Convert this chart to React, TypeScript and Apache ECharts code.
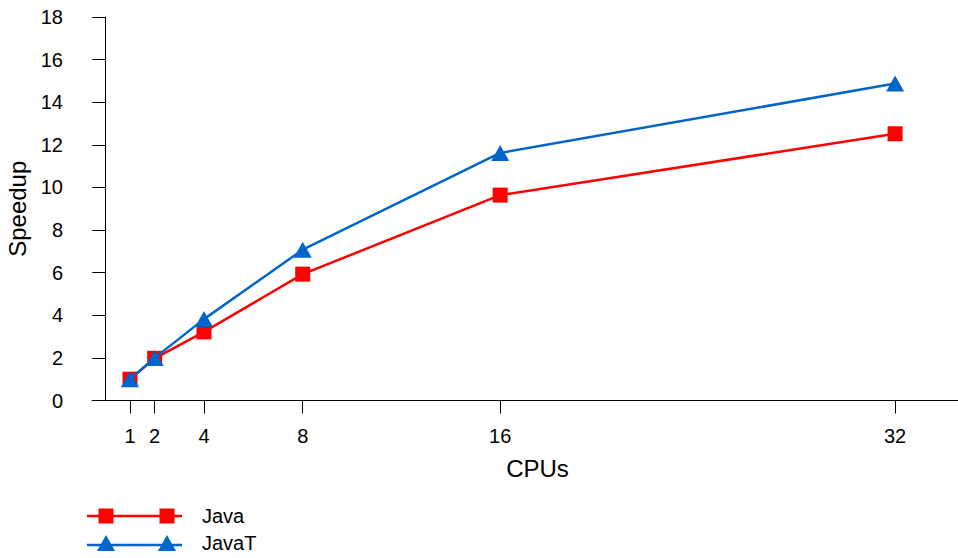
import React, { useEffect, useRef } from "react";
import * as echarts from "echarts";

const cpus = [1, 2, 4, 8, 16, 32];
const javaSpeedup = [1.0, 1.98, 3.22, 5.93, 9.64, 12.52];
const javaTSpeedup = [1.0, 2.0, 3.82, 7.08, 11.62, 14.88];
const yTicks = [0, 2, 4, 6, 8, 10, 12, 14, 16, 18];
const seriesNames = ["Java", "JavaT"];
const colors = ["#ff0000", "#0066cc"];

const FONT = "'Liberation Sans', Arial, Helvetica, sans-serif";

export default function App() {
  const ref = useRef<HTMLDivElement>(null);
  useEffect(() => {
    if (!ref.current) return;
    const chart = echarts.init(ref.current, undefined, { renderer: "svg" });
    const pair = (xs: number[], ys: number[]) => xs.map((x, i) => [x, ys[i]]);
    chart.setOption({
      animation: false,
      backgroundColor: "#ffffff",
      textStyle: { fontFamily: FONT },
      grid: { left: 92, right: 0, top: 17, bottom: 157.5, containLabel: false, outerBoundsMode: "none" },
      xAxis: {
        type: "value",
        min: -0.539,
        max: 34.55,
        name: "CPUs",
        nameLocation: "middle",
        nameGap: 56,
        nameTextStyle: { fontSize: 24, color: "#000", fontFamily: FONT, padding: [0, 0, 0, 25] },
        axisLine: { show: true, onZero: false, lineStyle: { color: "#000", width: 1 } },
        axisTick: { show: true, inside: false, length: 13, customValues: cpus, lineStyle: { color: "#000" } },
        axisLabel: { show: true, margin: 25, fontSize: 20, color: "#000", fontFamily: FONT, customValues: cpus },
        splitLine: { show: false },
      },
      yAxis: {
        type: "value",
        min: 0,
        max: 18,
        interval: 2,
        name: "Speedup",
        nameLocation: "middle",
        nameGap: 62,
        nameTextStyle: { fontSize: 24, color: "#000", fontFamily: FONT },
        axisLine: { show: true, onZero: true, lineStyle: { color: "#000", width: 1 } },
        axisTick: { show: true, inside: false, length: 13, customValues: yTicks, lineStyle: { color: "#000" } },
        axisLabel: { show: true, margin: 29, fontSize: 20, color: "#000", fontFamily: FONT, customValues: yTicks },
        splitLine: { show: false },
      },
      legend: {
        orient: "vertical",
        left: 87,
        top: 505,
        padding: 0,
        itemWidth: 95,
        itemHeight: 16,
        itemGap: 5,
        textStyle: { fontSize: 20, lineHeight: 22, color: "#000", fontFamily: FONT, padding: [0, 0, 0, 15] },
        itemStyle: { borderWidth: 0 },
        data: [
          {
            name: seriesNames[0],
            icon: "path://M0,6.8H95V9.2H0Z M11.5,0.5H26.5V15.5H11.5Z M72.5,0.5H87.5V15.5H72.5Z",
          },
          {
            name: seriesNames[1],
            icon: "path://M0,8.8H95V11.2H0Z M10,16L19,0L28,16Z M71,16L80,0L89,16Z",
          },
        ],
      },
      series: [
        {
          name: seriesNames[0],
          type: "line",
          data: pair(cpus, javaSpeedup),
          symbol: "rect",
          symbolSize: 15,
          color: colors[0],
          lineStyle: { color: colors[0], width: 2.5 },
          itemStyle: { color: colors[0], borderWidth: 0 },
          z: 2,
        },
        {
          name: seriesNames[1],
          type: "line",
          data: pair(cpus, javaTSpeedup),
          symbol: "triangle",
          symbolSize: [18, 16],
          color: colors[1],
          lineStyle: { color: colors[1], width: 2.5 },
          itemStyle: { color: colors[1], borderWidth: 0 },
          z: 3,
        },
      ],
    });
    return () => chart.dispose();
  }, []);
  return (
    <div
      ref={ref}
      style={{ position: "fixed", left: 0, top: 0, width: 958, height: 558, background: "#fff" }}
    />
  );
}
